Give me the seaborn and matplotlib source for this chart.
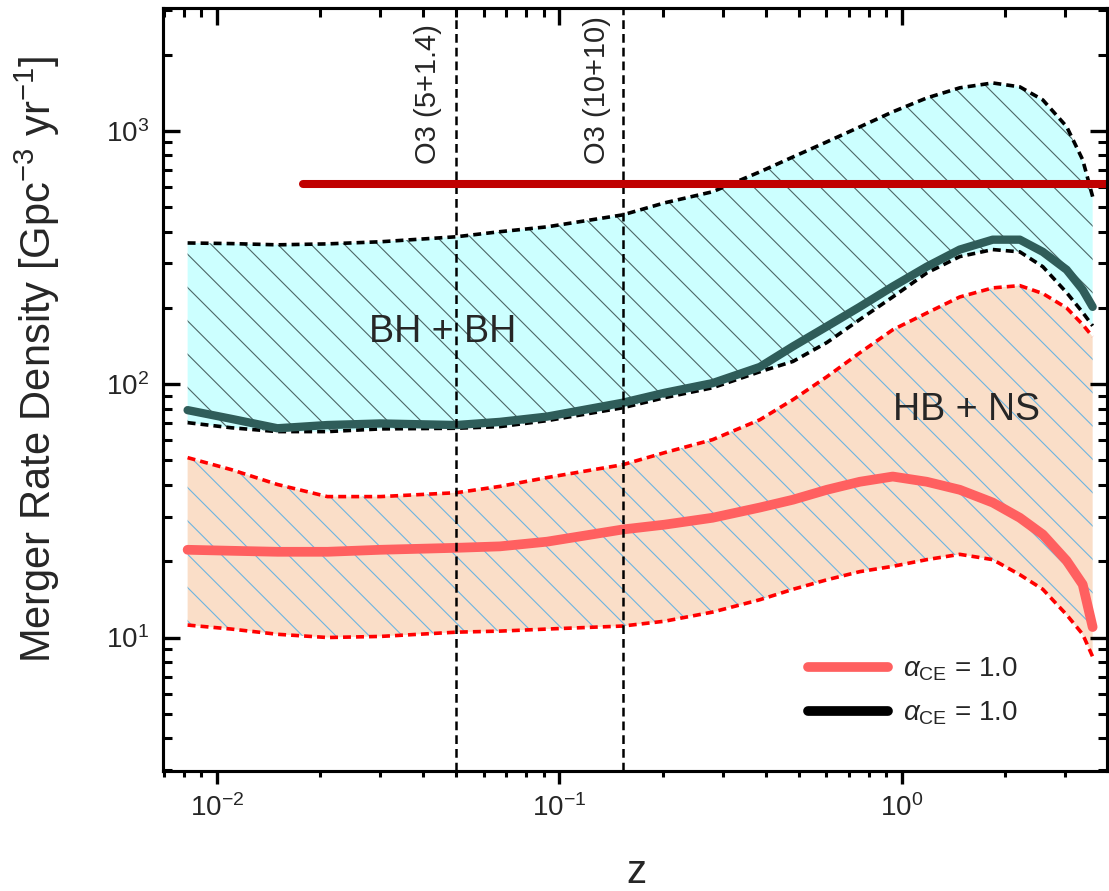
import matplotlib
matplotlib.use("Agg")
import matplotlib.pyplot as plt
from matplotlib.lines import Line2D
from matplotlib.ticker import LogLocator, NullFormatter
import numpy as np
import pandas as pd
import seaborn as sns

sns.set_theme(style="ticks")
plt.rcParams["font.family"] = ["Liberation Sans", "DejaVu Sans"]
plt.rcParams["mathtext.fontset"] = "custom"
plt.rcParams["mathtext.rm"] = "Liberation Sans"
plt.rcParams["mathtext.it"] = "Liberation Sans:italic"
plt.rcParams["hatch.linewidth"] = 0.8
plt.rcParams["axes.axisbelow"] = False

# redshift grid and merger rates (Gpc^-3 yr^-1)
z = [0.0082, 0.011, 0.015, 0.021, 0.030, 0.050, 0.067, 0.092, 0.153, 0.203,
     0.28, 0.385, 0.481, 0.604, 0.754, 0.941, 1.183, 1.477, 1.844, 2.212,
     2.582, 3.03, 3.376, 3.61]
bh_upper = [361, 359, 355, 358, 365, 382, 400, 418, 466, 520,
            575, 689, 789, 905, 1037, 1189, 1349, 1479, 1546, 1492,
            1325, 1040, 769, 550]
bh_mid = [79, 73, 67, 69, 70, 69, 71, 74.5, 84.5, 92.5,
          101, 117, 141, 169, 202, 243, 291, 340, 372, 372,
          333, 283, 236, 202]
bh_lower = [70.5, 67.3, 65, 65, 66.6, 67, 68, 71.8, 80.7, 88.5,
            96.8, 112, 123, 146, 180, 221, 275, 319, 340, 333,
            291, 230, 192, 170]
ns_upper = [51.3, 46, 40.2, 36, 36, 37.3, 39.5, 42.8, 48.1, 53.7,
            60.4, 72.4, 86.9, 107, 133, 164, 191, 221, 240, 245,
            228, 200, 172, 154]
ns_mid = [22.2, 22.0, 21.8, 21.8, 22.2, 22.6, 22.9, 23.9, 26.7, 27.9,
          29.7, 32.6, 35.0, 38.3, 41.2, 43.2, 41.2, 38.3, 34.1, 29.7,
          25.5, 20.1, 16.2, 11.0]
ns_lower = [11.2, 10.8, 10.3, 10.0, 10.1, 10.5, 10.6, 10.8, 11.1, 11.6,
            12.6, 14.1, 15.5, 16.9, 18.2, 19.1, 20.3, 21.3, 20.3, 17.7,
            15.5, 12.3, 10.3, 8.4]

# O3 observed rate and horizon lines
o3_z = [0.0178, 3.97]
o3_rate = [617, 617]
horizon_z = [0.05, 0.153]
horizon_labels = ["O3 (5+1.4)", "O3 (10+10)"]
horizon_label_x = [0.0413, 0.1287]

legend_labels = [r"$\alpha_{\mathrm{CE}}$ = 1.0", r"$\alpha_{\mathrm{CE}}$ = 1.0"]

df = pd.DataFrame({"z": z, "bh_upper": bh_upper, "bh_mid": bh_mid, "bh_lower": bh_lower,
                   "ns_upper": ns_upper, "ns_mid": ns_mid, "ns_lower": ns_lower})

teal = "#2F5D5A"
salmon = "#FF6060"
xlim = (0.00695, 3.97)

fig, ax = plt.subplots(figsize=(11.09, 8.91), dpi=100)
fig.subplots_adjust(left=0.147, right=0.998, bottom=0.135, top=0.991)
ax.set_xscale("log")
ax.set_yscale("log")

ax.fill_between(df["z"], df["bh_lower"], df["bh_upper"], facecolor="#CCFFFF",
                edgecolor="#4d6666", hatch="\\", linewidth=0, zorder=1)
ax.fill_between(df["z"], df["ns_lower"], df["ns_upper"], facecolor="#FADEC8",
                edgecolor="#6CB4E0", hatch="\\", linewidth=0, zorder=1)

dash = (0, (2.2, 1.4))
sns.lineplot(data=df, x="z", y="bh_upper", ax=ax, color="black", lw=2.6, linestyle=dash, zorder=3)
sns.lineplot(data=df, x="z", y="bh_lower", ax=ax, color="black", lw=2.6, linestyle=dash, zorder=3)
sns.lineplot(data=df, x="z", y="ns_upper", ax=ax, color="red", lw=2.6, linestyle=dash, zorder=3)
sns.lineplot(data=df, x="z", y="ns_lower", ax=ax, color="red", lw=2.6, linestyle=dash, zorder=3)
sns.lineplot(data=df, x="z", y="bh_mid", ax=ax, color=teal, lw=6, zorder=4)
sns.lineplot(data=df, x="z", y="ns_mid", ax=ax, color=salmon, lw=7, zorder=4)

for hz in horizon_z:
    ax.axvline(hz, color="black", lw=1.8, linestyle=(0, (3.5, 2)), zorder=5)
for lab, lx in zip(horizon_labels, horizon_label_x):
    ax.text(lx, 0.7955, lab, transform=ax.get_xaxis_transform(), rotation=90,
            ha="center", va="bottom", fontsize=21)

sns.lineplot(x=o3_z, y=o3_rate, ax=ax, color="#C00000", lw=5.8, zorder=6)

ax.text(0.0457, 161, "BH + BH", fontsize=27, ha="center", va="center", zorder=7)
ax.text(1.548, 79.2, "HB + NS", fontsize=27, ha="center", va="center", zorder=7)

ax.set_xlim(*xlim)
ax.set_ylim(2.98, 3055)

ax.set_xlabel("z", fontsize=29)
ax.set_ylabel(r"Merger Rate Density [Gpc$^{-3}$ yr$^{-1}$]", fontsize=30)
ax.xaxis.set_label_coords(0.502, -0.108)
ax.yaxis.set_label_coords(-0.107, 0.539)

for axis in (ax.xaxis, ax.yaxis):
    axis.set_major_locator(LogLocator(base=10, numticks=12))
    axis.set_minor_locator(LogLocator(base=10, subs=np.arange(2, 10), numticks=12))
    axis.set_minor_formatter(NullFormatter())

ax.tick_params(axis="both", which="both", color="black")
ax.tick_params(axis="y", which="both", direction="in", left=True, right=True, labelsize=20, pad=10)
ax.tick_params(axis="y", which="major", length=12, width=2.4)
ax.tick_params(axis="y", which="minor", length=6.5, width=2.2)
ax.tick_params(axis="x", which="both", direction="out", bottom=True, top=False, labelsize=20, pad=8)
ax.tick_params(axis="x", which="major", length=9, width=2.4)
ax.tick_params(axis="x", which="minor", length=4.5, width=2.2)

# top ticks point inward while bottom ticks point outward
top = ax.twiny()
top.set_xscale("log")
top.set_xlim(*xlim)
top.xaxis.set_major_locator(LogLocator(base=10, numticks=12))
top.xaxis.set_minor_locator(LogLocator(base=10, subs=np.arange(2, 10), numticks=12))
top.xaxis.set_minor_formatter(NullFormatter())
top.tick_params(axis="x", which="both", direction="in", top=True, bottom=False,
                labeltop=False, labelbottom=False, color="black")
top.tick_params(axis="x", which="major", length=12, width=2.4)
top.tick_params(axis="x", which="minor", length=6.5, width=2.2)
top.tick_params(axis="y", which="both", left=False, right=False, labelleft=False, labelright=False)
for sp in top.spines.values():
    sp.set_linewidth(2.2)
    sp.set_color("black")

for sp in ax.spines.values():
    sp.set_linewidth(2.2)
    sp.set_color("black")

handles = [Line2D([], [], color=salmon, lw=7, solid_capstyle="round"),
           Line2D([], [], color="black", lw=7, solid_capstyle="round")]
ax.legend(handles, legend_labels, loc="center left", bbox_to_anchor=(0.683, 0.104),
          frameon=False, fontsize=20, handlelength=2.9, handletextpad=0.55,
          labelspacing=0.6, borderpad=0, borderaxespad=0)

fig.savefig("out.png", dpi=100)
